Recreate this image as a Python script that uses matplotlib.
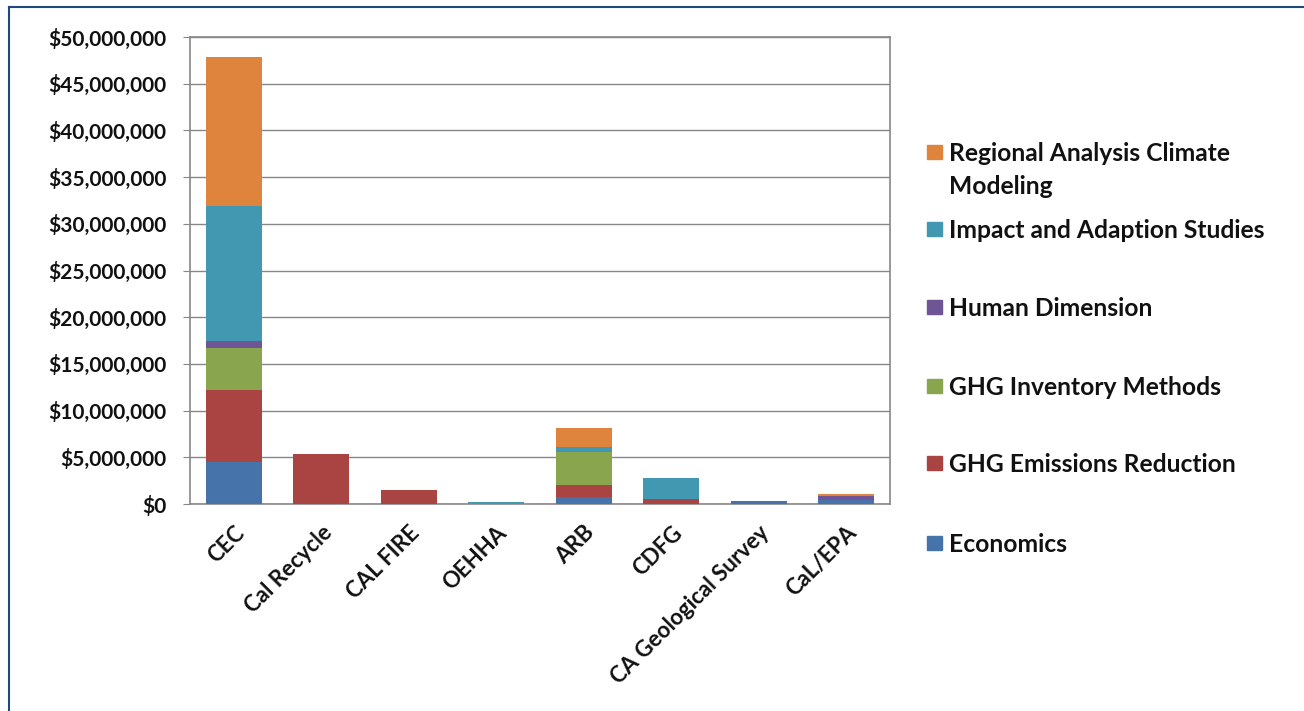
import matplotlib
matplotlib.use("Agg")
import matplotlib.pyplot as plt
from matplotlib.lines import Line2D
from matplotlib.patches import Rectangle
from matplotlib.ticker import FuncFormatter, MultipleLocator
import numpy as np

plt.rcParams['font.family'] = ['Lato', 'DejaVu Sans']
plt.rcParams['font.weight'] = 'bold'

agencies = ["CEC", "Cal Recycle", "CAL FIRE", "OEHHA", "ARB", "CDFG",
            "CA Geological Survey", "CaL/EPA"]

# values in millions of dollars
economics = [4.5, 0, 0, 0, 0.8, 0, 0.35, 0.4]
ghg_emissions = [7.7, 5.35, 1.5, 0, 1.25, 0.5, 0, 0]
ghg_inventory = [4.5, 0, 0, 0, 3.55, 0, 0, 0]
human_dimension = [0.7, 0, 0, 0, 0, 0, 0, 0.45]
impact_adaption = [14.5, 0, 0, 0.2, 0.5, 2.25, 0, 0]
regional_climate = [16.0, 0, 0, 0, 2.0, 0, 0, 0.25]

series_names = ["Economics", "GHG Emissions Reduction", "GHG Inventory Methods",
                "Human Dimension", "Impact and Adaption Studies",
                "Regional Analysis Climate\nModeling"]
series_vals = [economics, ghg_emissions, ghg_inventory, human_dimension,
               impact_adaption, regional_climate]
colors = ["#4673AA", "#AA4443", "#89A54E", "#6E5596", "#4298B1", "#DE843C"]

W, H = 1304, 711
fig = plt.figure(figsize=(W / 100, H / 100), dpi=100)
ax = fig.add_axes([190 / W, 1 - 504 / H, 700 / W, 467 / H])

x = np.arange(len(agencies))
bottom = np.zeros(len(agencies))
for name, vals, c in zip(series_names, series_vals, colors):
    v = np.array(vals) * 1e6
    ax.bar(x, v, 0.64, bottom=bottom, color=c, zorder=3)
    bottom += v

ax.set_xlim(-0.5, len(agencies) - 0.5)
ax.set_ylim(0, 50e6)
ax.yaxis.set_major_locator(MultipleLocator(5e6))
ax.yaxis.set_major_formatter(FuncFormatter(lambda v, p: "${:,.0f}".format(v)))
ax.grid(axis='y', color='#878787', linewidth=1.0, zorder=0)
for s in ax.spines.values():
    s.set_color('#878787')
    s.set_linewidth(1.2)

ax.tick_params(axis='y', length=5, color='#878787', pad=12, labelsize=15,
               labelcolor='#111111')
ax.tick_params(axis='x', length=0, pad=13, labelsize=16, labelcolor='#111111')
ax.set_xticks(x)
ax.set_xticklabels(agencies, rotation=45, ha='right', rotation_mode='anchor',
                   fontweight='bold')
for t in ax.get_yticklabels():
    t.set_fontweight('bold')

# legend drawn on the figure, top entry first
legend_y = [152, 229, 307, 386, 463, 543]
for (name, c), y in zip(list(zip(series_names, colors))[::-1], legend_y):
    fig.patches.append(Rectangle((927 / W, 1 - (y + 7) / H), 15 / W, 14 / H,
                                 transform=fig.transFigure, color=c))
    fig.text(949 / W, 1 - (y - 10) / H, name, fontsize=17.7, fontweight='bold',
             va='top', ha='left', linespacing=1.5, color='#111111')

# outer chart border (top and left visible)
fig.add_artist(Line2D([9 / W, 1.01], [1 - 7 / H, 1 - 7 / H],
                      transform=fig.transFigure, color='#1F497D', linewidth=1.5))
fig.add_artist(Line2D([9 / W, 9 / W], [-0.01, 1 - 7 / H],
                      transform=fig.transFigure, color='#1F497D', linewidth=1.5))

fig.savefig("out.png", dpi=100)
